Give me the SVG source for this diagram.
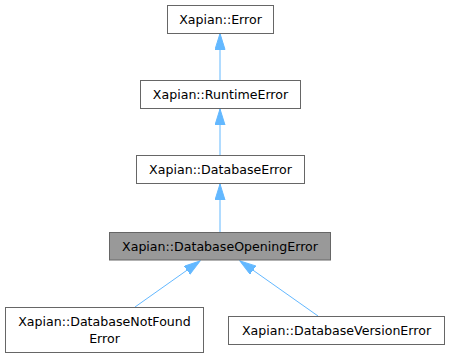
<svg xmlns="http://www.w3.org/2000/svg" width="450" height="358" viewBox="0 0 450 358">
<defs>
<style>
.node rect{fill:#ffffff;stroke:#666666;stroke-width:1}
.node.hl rect{fill:#999999;stroke:#666666}
text{font-family:"DejaVu Sans",sans-serif;font-size:12.6px;fill:#000000;text-anchor:middle}
.edge{stroke:#63b8ff;stroke-width:1;fill:none;marker-end:url(#ah)}
</style>
<marker id="ah" markerUnits="userSpaceOnUse" markerWidth="17" markerHeight="11" refX="16" refY="5" orient="auto" viewBox="0 0 17 11">
<path d="M0,0 L16,5 L0,10 z" fill="#63b8ff" stroke="#63b8ff" stroke-width="1"/>
</marker>
</defs>
<rect width="450" height="358" fill="#ffffff"/>
<g id="connectors">
<line class="edge" x1="220" y1="80" x2="220" y2="33.5"/>
<line class="edge" x1="220" y1="155" x2="220" y2="109"/>
<line class="edge" x1="220" y1="232" x2="220" y2="184"/>
<line class="edge" x1="135" y1="307" x2="200" y2="261"/>
<line class="edge" x1="318" y1="316" x2="240" y2="261"/>
</g>
<g id="n-error" class="node"><rect x="167.5" y="5.5" width="106" height="28"/><text x="220.5" y="24">Xapian::Error</text></g>
<g id="n-runtime" class="node"><rect x="140.5" y="80.5" width="160" height="28"/><text x="220.5" y="99">Xapian::RuntimeError</text></g>
<g id="n-database" class="node"><rect x="136.5" y="155.5" width="168" height="28"/><text x="220.5" y="174">Xapian::DatabaseError</text></g>
<g id="n-opening" class="node hl"><rect x="109.5" y="232.5" width="221" height="27.5"/><text x="220" y="251">Xapian::DatabaseOpeningError</text></g>
<g id="n-notfound" class="node"><rect x="5.5" y="307.5" width="198" height="45"/><text x="104.5" y="326">Xapian::DatabaseNotFound</text><text x="104.5" y="343">Error</text></g>
<g id="n-version" class="node"><rect x="228.5" y="316.5" width="216" height="28"/><text x="336.5" y="335">Xapian::DatabaseVersionError</text></g>
</svg>
